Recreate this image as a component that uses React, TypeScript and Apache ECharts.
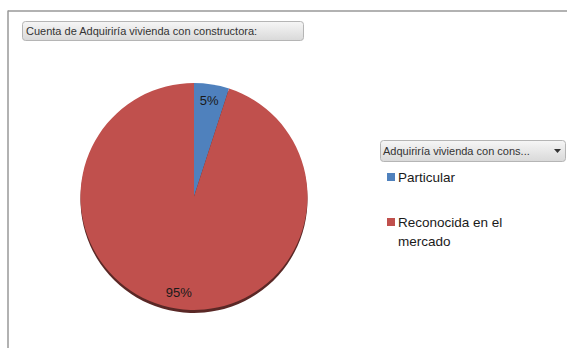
import React, { useEffect, useRef } from "react";
import * as echarts from "echarts";

const categories = ["Particular", "Reconocida en el mercado"];
const values = [5, 95];
const colors = ["#4F81BD", "#C0504D"];
const titleText = "Cuenta de Adquiriría vivienda con constructora:";
const legendTitle = "Adquiriría vivienda con cons...";

export default function App() {
  const ref = useRef<HTMLDivElement>(null);
  useEffect(() => {
    document.body.style.margin = "0";
    if (!ref.current) return;
    const chart = echarts.init(ref.current, null, { renderer: "svg" });
    const cx = 194;
    const cy = 196.5;
    const r = 113.5;
    const data = categories.map((n, i) => ({
      name: n,
      value: values[i],
      itemStyle: { color: colors[i] },
    }));
    const font = "Liberation Sans";
    const legendGraphics: any[] = [];
    categories.forEach((n, i) => {
      const y = i === 0 ? 173 : 218;
      legendGraphics.push({
        type: "rect",
        shape: { x: 387, y, width: 8, height: 8 },
        style: { fill: colors[i] },
      });
      legendGraphics.push({
        type: "text",
        x: 398,
        y: y - 5,
        style: {
          text: n,
          width: 118,
          overflow: "break",
          lineHeight: 19,
          font: `13.5px '${font}'`,
          fill: "#1a1a1a",
        },
      });
    });
    chart.setOption({
      animation: false,
      graphic: [
        {
          type: "line",
          shape: { x1: 8, y1: 11, x2: 567, y2: 11 },
          style: { stroke: "#999", lineWidth: 1.5 },
        },
        {
          type: "line",
          shape: { x1: 8, y1: 10.5, x2: 8, y2: 348 },
          style: { stroke: "#999", lineWidth: 1.5 },
        },
        {
          type: "rect",
          shape: { x: 22.5, y: 21.5, width: 281, height: 19, r: 3 },
          style: {
            fill: new echarts.graphic.LinearGradient(0, 0, 0, 1, [
              { offset: 0, color: "#f6f6f6" },
              { offset: 1, color: "#d9d9d9" },
            ]),
            stroke: "#b5b5b5",
            lineWidth: 1,
          },
        },
        {
          type: "text",
          x: 26,
          y: 25,
          style: { text: titleText, font: `11px '${font}'`, fill: "#333" },
        },
        {
          type: "rect",
          shape: { x: 380.5, y: 140.5, width: 185, height: 21, r: 3 },
          style: {
            fill: new echarts.graphic.LinearGradient(0, 0, 0, 1, [
              { offset: 0, color: "#f6f6f6" },
              { offset: 1, color: "#d9d9d9" },
            ]),
            stroke: "#b5b5b5",
            lineWidth: 1,
          },
        },
        {
          type: "text",
          x: 383,
          y: 145,
          style: { text: legendTitle, font: `11px '${font}'`, fill: "#333" },
        },
        {
          type: "polygon",
          shape: { points: [[554, 149], [561, 149], [557.5, 153]] },
          style: { fill: "#333" },
        },
        ...legendGraphics,
      ],
      series: [
        {
          type: "pie",
          silent: true,
          center: [cx, cy + 3],
          radius: [0, r],
          startAngle: 90,
          clockwise: true,
          label: { show: false },
          labelLine: { show: false },
          data: data.map((d) => ({ ...d, itemStyle: { color: "#5a2826" } })),
          z: 1,
        },
        {
          type: "pie",
          center: [cx, cy],
          radius: [0, r],
          startAngle: 90,
          clockwise: true,
          label: { show: false },
          labelLine: { show: false },
          itemStyle: { borderWidth: 0 },
          data,
          z: 2,
        },
        {
          type: "pie",
          silent: true,
          center: [cx, cy],
          radius: [r * 0.66, r],
          startAngle: 90,
          clockwise: true,
          label: {
            show: true,
            position: "inside",
            formatter: "{d}%",
            fontFamily: font,
            fontSize: 13,
            color: "#1a1a1a",
          },
          labelLine: { show: false },
          itemStyle: { color: "rgba(0,0,0,0)", borderWidth: 0 },
          data: categories.map((n, i) => ({ name: n, value: values[i] })),
          z: 3,
        },
      ],
    });
    return () => chart.dispose();
  }, []);
  return <div ref={ref} style={{ width: 567, height: 348 }} />;
}
